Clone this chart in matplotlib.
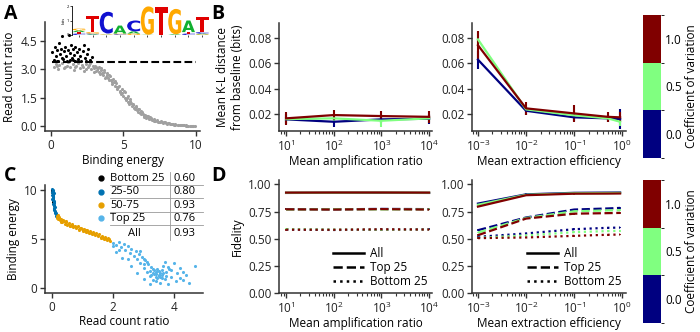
import numpy as np
import matplotlib
matplotlib.use('Agg')
import matplotlib.pyplot as plt
from matplotlib.colors import ListedColormap, BoundaryNorm
from matplotlib.cm import ScalarMappable
from matplotlib.lines import Line2D
from matplotlib.textpath import TextPath
from matplotlib.patches import PathPatch
from matplotlib.font_manager import FontProperties
from matplotlib.transforms import Affine2D

plt.rcParams['font.family'] = ['Open Sans', 'DejaVu Sans']
plt.rcParams['mathtext.fontset'] = 'custom'
plt.rcParams['mathtext.rm'] = 'Open Sans'
plt.rcParams['font.size'] = 8.5
FS = 8.5

# ---- panel A data: binding energy vs read count ratio ----
a_gray_energy = [0.2, 0.35, 0.5, 0.6, 0.8, 0.9, 1.1, 1.2, 1.35, 1.5, 1.6, 1.75, 1.9, 2.0, 2.15, 2.3, 2.4, 2.55, 2.7, 2.8,
                 2.9, 3.0, 3.1, 3.2, 3.3, 3.4, 3.5, 3.6, 3.7, 3.8, 3.9, 4.0, 4.1, 4.2, 4.3, 4.4, 4.5, 4.6, 4.7, 4.8,
                 4.9, 5.0, 5.1, 5.2, 5.3, 5.4, 5.5, 5.6, 5.7, 5.8, 5.9, 6.0, 6.1, 6.2, 6.3, 6.4, 6.5, 6.6, 6.7, 6.8,
                 6.9, 7.0, 7.1, 7.2, 7.35, 7.5, 7.6, 7.75, 7.9, 8.0, 8.15, 8.3, 8.45, 8.6, 8.75, 8.9, 9.05, 9.2, 9.35, 9.5,
                 9.65, 9.8, 9.95, 3.45, 3.75, 4.05, 4.25, 4.55, 4.75, 4.95, 5.15, 5.35, 5.55, 5.75, 5.95, 6.15, 6.35, 6.55, 6.75, 7.05,
                 7.4, 7.8, 8.2, 8.6, 9.0, 9.4, 9.85,
                 2.45, 2.65, 2.95, 3.05, 3.15, 3.25, 3.35, 3.55, 3.65, 3.85, 3.95, 4.15, 4.35, 4.45, 4.65, 4.85, 5.05, 5.25, 5.45, 5.65,
                 5.85, 6.05, 6.25, 6.45, 6.65, 6.85, 6.95, 7.15, 7.3, 7.55, 7.7, 7.95, 8.1, 8.35, 8.5, 8.8, 9.1, 9.3, 9.6, 9.75,
                 1.0, 1.7, 0.45, 2.25]
a_gray_ratio = [3.1, 3.3, 3.0, 3.25, 3.35, 3.05, 3.2, 3.38, 3.1, 3.3, 2.95, 3.2, 3.35, 3.05, 3.25, 2.9, 3.3, 3.15, 3.35, 3.0,
                3.2, 2.85, 3.1, 2.95, 3.15, 2.75, 2.95, 2.7, 2.85, 2.6, 2.8, 2.45, 2.65, 2.35, 2.5, 2.15, 2.3, 1.95, 2.15, 1.8,
                1.95, 1.6, 1.8, 1.4, 1.6, 1.2, 1.35, 1.05, 1.2, 0.9, 1.0, 0.75, 0.9, 0.65, 0.75, 0.55, 0.62, 0.45, 0.52, 0.38,
                0.45, 0.32, 0.37, 0.27, 0.3, 0.22, 0.26, 0.18, 0.2, 0.14, 0.16, 0.11, 0.12, 0.08, 0.09, 0.06, 0.07, 0.05, 0.05, 0.04,
                0.03, 0.03, 0.02, 3.05, 2.55, 2.7, 2.25, 2.05, 1.85, 1.75, 1.5, 1.3, 1.25, 0.95, 0.85, 0.7, 0.65, 0.5, 0.42, 0.35,
                0.25, 0.22, 0.13, 0.1, 0.05, 0.04, 0.02,
                3.0, 3.25, 3.05, 3.2, 2.9, 3.05, 2.85, 2.8, 2.95, 2.7, 2.55, 2.45, 2.35, 2.4, 2.05, 1.7, 1.85, 1.5, 1.45, 1.1,
                1.05, 0.9, 0.8, 0.5, 0.55, 0.48, 0.36, 0.3, 0.33, 0.2, 0.24, 0.16, 0.18, 0.14, 0.09, 0.07, 0.06, 0.04, 0.04, 0.02,
                3.15, 3.1, 3.2, 3.1]
a_top_energy = [0.1, 0.2, 0.3, 0.35, 0.45, 0.5, 0.6, 0.65, 0.7, 0.8, 0.85, 0.9, 1.0, 1.05, 1.15, 1.2, 1.25, 1.3, 1.4, 1.45,
                1.5, 1.6, 1.65, 1.7, 1.8, 1.85, 1.95, 2.0, 2.1, 2.2, 2.3, 2.35, 2.5, 2.6, 2.7, 2.85, 0.4, 1.35, 1.9, 2.4,
                0.75, 1.55]
a_top_ratio = [3.9, 3.5, 4.2, 3.7, 4.0, 3.45, 4.4, 3.8, 4.1, 4.75, 3.55, 3.95, 4.2, 3.7, 3.45, 4.0, 4.8, 3.85, 4.3, 3.6,
               4.05, 3.75, 3.45, 4.2, 3.9, 3.55, 4.1, 3.7, 3.45, 3.95, 4.3, 3.6, 3.8, 4.1, 3.5, 3.65, 3.45, 3.5, 3.42, 3.45,
               3.6, 3.48]
a_threshold = 3.4

# sequence logo (bits), one dict per position
logo_columns = [
    {'A': 0.12, 'C': 0.1, 'G': 0.12, 'T': 0.1},
    {'A': 0.05, 'C': 0.05, 'G': 0.1, 'T': 1.1},
    {'A': 0.02, 'G': 0.03, 'T': 0.05, 'C': 1.5},
    {'C': 0.05, 'G': 0.05, 'A': 0.55},
    {'A': 0.15, 'G': 0.1, 'C': 0.75},
    {'A': 0.02, 'G': 1.95},
    {'T': 1.9},
    {'A': 0.05, 'G': 1.75},
    {'C': 0.1, 'T': 0.1, 'A': 0.8},
    {'C': 0.1, 'G': 0.05, 'A': 0.05, 'T': 1.05},
]
logo_colors = {'A': '#10b030', 'C': '#1010d0', 'G': '#ffa800', 'T': '#e00000'}

# ---- panel B data: mean K-L distance ----
amp_ratio = [10, 100, 1000, 10000]
ext_eff = [0.001, 0.01, 0.1, 0.5, 0.9]
cv_levels = [0.0, 0.5, 1.0]
cv_colors = ['#000080', '#80ff80', '#800000']

kl_amp = {0.0: [0.0158, 0.0139, 0.0158, 0.0163],
          0.5: [0.0160, 0.0166, 0.0147, 0.0166],
          1.0: [0.0166, 0.0192, 0.0184, 0.0178]}
kl_amp_err = {0.0: [0.004, 0.004, 0.003, 0.004],
              0.5: [0.003, 0.003, 0.005, 0.003],
              1.0: [0.005, 0.004, 0.004, 0.005]}
kl_ext = {0.0: [0.063, 0.0226, 0.0174, 0.0166, 0.016],
          0.5: [0.079, 0.0237, 0.019, 0.0166, 0.0139],
          1.0: [0.0744, 0.0245, 0.0205, 0.0178, 0.0174]}
kl_ext_err = {0.0: [0.007, 0.003, 0.003, 0.003, 0.008],
              0.5: [0.006, 0.003, 0.004, 0.003, 0.003],
              1.0: [0.011, 0.005, 0.007, 0.004, 0.004]}

# ---- panel C data: read count ratio vs binding energy by quartile ----
c_bottom_ratio = [0.01, 0.02, 0.02, 0.03, 0.01, 0.04]
c_bottom_energy = [9.8, 9.5, 9.2, 8.9, 10.0, 8.7]
c_q2_ratio = [0.0, 0.02, 0.01, 0.03, 0.02, 0.04, 0.03, 0.05, 0.04, 0.06, 0.07, 0.08, 0.1, 0.12, 0.14, 0.01,
              0.05, 0.06, 0.09, 0.11, 0.0, 0.03, 0.07, 0.13, 0.02, 0.04, 0.06, 0.08, 0.1, 0.03]
c_q2_energy = [10.1, 9.9, 9.7, 9.5, 9.3, 9.1, 8.9, 8.7, 8.5, 8.3, 8.1, 7.9, 7.7, 7.5, 7.35, 9.0,
               9.6, 8.8, 8.2, 7.8, 9.4, 10.0, 8.6, 7.6, 9.6, 9.2, 8.4, 8.0, 7.6, 9.8]
c_q3_ratio = [0.15, 0.18, 0.22, 0.25, 0.3, 0.33, 0.38, 0.42, 0.47, 0.5, 0.55, 0.6, 0.65, 0.7, 0.75, 0.8,
              0.85, 0.9, 0.95, 1.0, 1.05, 1.1, 1.15, 1.2, 1.25, 1.3, 1.35, 1.4, 1.45, 1.5, 1.55, 1.6,
              1.65, 1.7, 1.75, 1.8, 1.85, 1.9, 0.2, 0.28, 0.62, 0.88, 1.12, 1.38, 1.62, 1.78,
              0.17, 0.24, 0.35, 0.45, 0.52, 0.58, 0.68, 0.78, 0.92, 0.98, 1.08, 1.18, 1.28, 1.42, 1.52, 1.68,
              1.82, 1.88]
c_q3_energy = [7.3, 7.0, 7.2, 6.9, 7.05, 6.7, 6.85, 6.55, 6.7, 6.4, 6.6, 6.3, 6.5, 6.15, 6.35, 6.05,
               6.25, 5.9, 6.1, 5.8, 6.0, 5.7, 5.9, 5.55, 5.75, 5.45, 5.65, 5.35, 5.55, 5.25, 5.45, 5.1,
               5.3, 5.0, 5.2, 4.9, 5.05, 4.75, 7.45, 6.75, 6.45, 6.0, 5.85, 5.5, 5.2, 4.95,
               7.15, 7.1, 6.95, 6.8, 6.55, 6.35, 6.3, 6.2, 6.05, 5.95, 5.8, 5.7, 5.6, 5.45, 5.35, 5.1,
               5.0, 4.95]
c_top_ratio = [2.0, 2.1, 2.2, 2.25, 2.35, 2.4, 2.5, 2.55, 2.6, 2.7, 2.75, 2.8, 2.85, 2.9, 2.95, 3.0,
               3.05, 3.1, 3.15, 3.2, 3.25, 3.3, 3.35, 3.4, 3.45, 3.5, 3.55, 3.6, 3.65, 3.7, 3.75, 3.8,
               3.85, 3.9, 4.0, 4.05, 4.1, 4.2, 4.3, 4.4, 4.5, 4.7, 3.4, 3.5, 3.45, 3.3, 3.55, 3.6,
               3.4, 3.25, 2.6, 2.3, 2.1, 3.0, 3.2, 3.0, 2.8, 2.9, 4.2, 3.7,
               3.35, 3.5, 3.45, 3.6, 3.3, 3.65, 3.55, 3.2, 3.75, 3.4, 3.1, 2.5, 2.2, 2.0, 3.9, 4.3,
               3.0, 3.8]
c_top_energy = [4.6, 4.4, 4.7, 4.2, 4.5, 3.9, 4.3, 3.6, 4.0, 3.3, 3.8, 2.9, 3.5, 2.5, 3.2, 2.0,
                2.8, 1.6, 2.4, 1.2, 2.1, 0.8, 1.8, 1.4, 1.0, 1.7, 0.5, 1.3, 2.2, 0.9, 1.6, 0.4,
                1.9, 1.1, 2.5, 0.7, 1.5, 2.0, 0.8, 1.3, 0.5, 2.2, 1.6, 1.2, 1.9, 1.5, 1.5, 1.8,
                1.1, 1.3, 2.2, 3.1, 3.7, 3.0, 0.4, 0.9, 1.5, 3.8, 1.0, 2.6,
                1.45, 1.35, 1.7, 1.05, 1.9, 1.5, 1.15, 1.7, 1.2, 0.7, 2.6, 3.0, 3.9, 4.3, 1.8, 1.6,
                2.4, 2.1]
c_labels = ['Bottom 25', '25-50', '50-75', 'Top 25']
c_values = ['0.60', '0.80', '0.93', '0.76']
c_all_value = '0.93'
c_colors = ['black', '#0072B2', '#E69F00', '#56B4E9']

# ---- panel D data: fidelity ----
fid_amp = {
    'All': {0.0: [0.921, 0.922, 0.922, 0.921], 0.5: [0.923, 0.923, 0.924, 0.923], 1.0: [0.924, 0.925, 0.925, 0.924]},
    'Top 25': {0.0: [0.772, 0.770, 0.774, 0.772], 0.5: [0.768, 0.771, 0.769, 0.770], 1.0: [0.770, 0.768, 0.772, 0.768]},
    'Bottom 25': {0.0: [0.585, 0.580, 0.583, 0.586], 0.5: [0.588, 0.584, 0.582, 0.585], 1.0: [0.583, 0.582, 0.586, 0.584]},
}
fid_ext = {
    'All': {0.0: [0.823, 0.908, 0.922, 0.924, 0.925], 0.5: [0.812, 0.904, 0.918, 0.920, 0.921],
            1.0: [0.795, 0.900, 0.914, 0.915, 0.916]},
    'Top 25': {0.0: [0.578, 0.695, 0.768, 0.778, 0.783], 0.5: [0.556, 0.690, 0.752, 0.760, 0.762],
               1.0: [0.532, 0.685, 0.730, 0.735, 0.737]},
    'Bottom 25': {0.0: [0.517, 0.548, 0.587, 0.600, 0.602], 0.5: [0.508, 0.530, 0.560, 0.570, 0.572],
                  1.0: [0.505, 0.511, 0.526, 0.536, 0.538]},
}
fid_styles = {'All': '-', 'Top 25': '--', 'Bottom 25': ':'}

W, H = 700, 332
fig = plt.figure(figsize=(7, 3.32), dpi=100)


def box(l, t, r, b):
    return [l / W, 1 - b / H, (r - l) / W, (b - t) / H]


def style(ax):
    for s in ['top', 'right']:
        ax.spines[s].set_visible(False)
    for s in ['left', 'bottom']:
        ax.spines[s].set_linewidth(1.1)
        ax.spines[s].set_color('#333333')
    ax.tick_params(direction='out', length=3.5, width=1, pad=2, colors='#333333', labelsize=FS, labelcolor='#222222')
    ax.tick_params(which='minor', length=2, width=0.8, colors='#333333')


# ---------------- A ----------------
axA = fig.add_axes(box(45, 22, 200, 131))
axA.scatter(a_gray_energy, a_gray_ratio, s=5, color='#a0a0a0', linewidths=0)
axA.scatter(a_top_energy, a_top_ratio, s=5, color='black', linewidths=0)
axA.hlines(a_threshold, 0.1, 10, colors='black', linestyles='--', lw=1.5)
axA.set_xlim(-0.4, 10.3)
axA.set_ylim(-0.25, 5.5)
axA.set_xticks([0, 5, 10])
axA.set_yticks([0, 1.5, 3.0, 4.5])
axA.set_yticklabels(['0.0', '1.5', '3.0', '4.5'])
axA.set_xlabel('Binding energy', labelpad=2)
axA.set_ylabel('Read count ratio', labelpad=3)
style(axA)

# logo inset
axL = fig.add_axes(box(72, 6, 209, 35))
bold = FontProperties(family='DejaVu Sans', weight='bold')
for i, col in enumerate(logo_columns):
    y0 = 0
    for letter, h in sorted(col.items(), key=lambda kv: kv[1]):
        tp = TextPath((0, 0), letter, size=1, prop=bold)
        bb = tp.get_extents()
        tr = Affine2D().translate(-bb.x0, -bb.y0).scale(0.95 / bb.width, h / bb.height).translate(i + 0.025, y0)
        axL.add_patch(PathPatch(tr.transform_path(tp), color=logo_colors[letter], lw=0))
        y0 += h
axL.set_xlim(0, len(logo_columns))
axL.set_ylim(0, 2)
axL.patch.set_alpha(0)
for s in ['top', 'right', 'bottom']:
    axL.spines[s].set_visible(False)
axL.spines['left'].set_linewidth(0.6)
axL.set_yticks([0, 1, 2])
axL.set_xticks(np.arange(len(logo_columns)) + 0.5)
axL.set_xticklabels([])
axL.tick_params(labelsize=3, length=1.2, width=0.5, pad=1)
axL.set_ylabel('bits', fontsize=3, labelpad=1)

# ---------------- B ----------------
axB1 = fig.add_axes(box(279, 23, 432, 131))
axB2 = fig.add_axes(box(472, 23, 626, 131))
for ax, xs, ys, es in [(axB1, amp_ratio, kl_amp, kl_amp_err), (axB2, ext_eff, kl_ext, kl_ext_err)]:
    for cv, c in zip(cv_levels, cv_colors):
        ax.errorbar(xs, ys[cv], yerr=es[cv], color=c, lw=1.6, elinewidth=1.5, capsize=0)
    ax.set_xscale('log')
    ax.set_ylim(0.0066, 0.092)
    ax.set_yticks([0.02, 0.04, 0.06, 0.08])
    style(ax)
axB1.set_xlim(7.1, 11500)
axB2.set_xlim(10 ** -3.124, 10 ** 0.077)
axB1.set_xlabel('Mean amplification ratio', labelpad=1)
axB2.set_xlabel('Mean extraction efficiency', labelpad=1)
axB1.set_ylabel('Mean K-L distance\nfrom baseline (bits)', labelpad=3)

# ---------------- C ----------------
axC = fig.add_axes(box(45, 185, 203, 293))
axC.scatter(c_bottom_ratio, c_bottom_energy, s=5, color=c_colors[0], linewidths=0)
axC.scatter(c_q2_ratio, c_q2_energy, s=5, color=c_colors[1], linewidths=0)
axC.scatter(c_q3_ratio, c_q3_energy, s=5, color=c_colors[2], linewidths=0)
axC.scatter(c_top_ratio, c_top_energy, s=5, color=c_colors[3], linewidths=0)
axC.set_xlim(-0.23, 4.95)
axC.set_ylim(-0.5, 10.46)
axC.set_xticks([0, 2, 4])
axC.set_yticks([0, 5, 10])
axC.set_xlabel('Read count ratio', labelpad=1)
axC.set_ylabel('Binding energy', labelpad=3)
style(axC)

# legend table
TFS = 8
for i, (lab, val, col) in enumerate(zip(c_labels, c_values, c_colors)):
    yy = 178.3 + i * 13.35
    fig.add_artist(Line2D([101 / W], [1 - yy / H], marker='o', ms=3.5, color=col, ls='', transform=fig.transFigure))
    fig.text(110 / W, 1 - yy / H, lab, va='center', ha='left', fontsize=TFS)
    fig.text(173 / W, 1 - yy / H, val, va='center', ha='left', fontsize=TFS)
    fig.add_artist(Line2D([110 / W, 203 / W], [1 - (yy + 6.6) / H] * 2, color='#999999', lw=0.6,
                          transform=fig.transFigure))
fig.text(134 / W, 1 - 233 / H, 'All', va='center', ha='center', fontsize=TFS)
fig.text(173 / W, 1 - 233 / H, c_all_value, va='center', ha='left', fontsize=TFS)
fig.add_artist(Line2D([170 / W, 170 / W], [1 - 172 / H, 1 - 240 / H], color='#999999', lw=0.6,
                      transform=fig.transFigure))

# ---------------- D ----------------
axD1 = fig.add_axes(box(279, 180, 432, 293))
axD2 = fig.add_axes(box(472, 180, 626, 293))
for ax, xs, data in [(axD1, amp_ratio, fid_amp), (axD2, ext_eff, fid_ext)]:
    for grp, ls in fid_styles.items():
        for cv, c in zip(cv_levels, cv_colors):
            ax.errorbar(xs, data[grp][cv], yerr=0.008, color=c, ls=ls, lw=1.6, elinewidth=1.2, capsize=0)
    handles = [Line2D([], [], color='black', ls=fid_styles[g], lw=1.8) for g in fid_styles]
    ax.legend(handles, list(fid_styles), loc='lower right', bbox_to_anchor=(1.04, -0.05), frameon=False,
              fontsize=FS, handlelength=2.6, handletextpad=0.5, labelspacing=0.1)
    ax.set_xscale('log')
    ax.set_ylim(0, 1.04)
    ax.set_yticks([0, 0.25, 0.5, 0.75, 1.0])
    ax.set_yticklabels(['0.00', '0.25', '0.50', '0.75', '1.00'])
    style(ax)
axD1.set_xlim(7.1, 11500)
axD2.set_xlim(10 ** -3.124, 10 ** 0.077)
axD1.set_xlabel('Mean amplification ratio', labelpad=1)
axD2.set_xlabel('Mean extraction efficiency', labelpad=1)
axD1.set_ylabel('Fidelity', labelpad=3)

# ---------------- colorbars ----------------
cmap = ListedColormap(cv_colors)
norm = BoundaryNorm([-0.25, 0.25, 0.75, 1.25], cmap.N)
for t, b in [(15, 158), (180, 323)]:
    cax = fig.add_axes(box(643, t, 661, b))
    cb = fig.colorbar(ScalarMappable(norm=norm, cmap=cmap), cax=cax, ticks=cv_levels)
    cb.outline.set_visible(False)
    cb.ax.tick_params(length=0, labelsize=FS, pad=3)
    cb.set_label('Coefficient of variation', fontsize=FS, labelpad=2)

# panel letters
for lab, x, y in [('A', 4, 4), ('B', 211, 4), ('C', 4, 166), ('D', 211, 166)]:
    fig.text(x / W, 1 - y / H, lab, fontsize=14, fontweight='bold', va='top', ha='left')

fig.savefig('out.png', dpi=100)
